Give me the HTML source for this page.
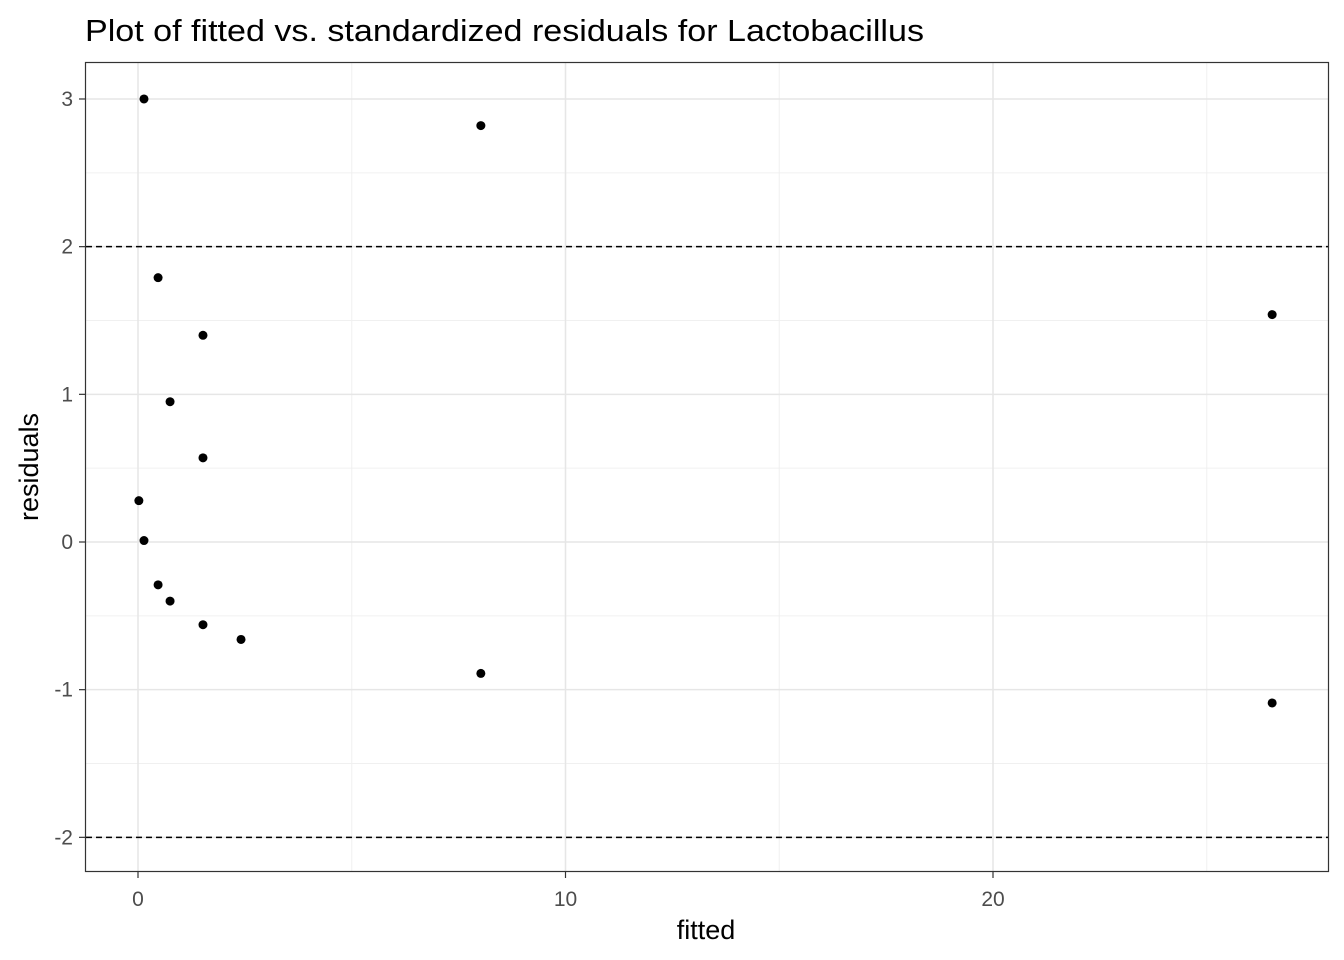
<!DOCTYPE html>
<html><head><meta charset="utf-8"><style>body{margin:0;background:#fff}svg{display:block;font-family:"Liberation Sans",sans-serif}</style></head>
<body>
<svg id="chart" width="1344" height="960">
<text x="85" y="41" font-size="31" textLength="839" lengthAdjust="spacingAndGlyphs" fill="#000">Plot of fitted vs. standardized residuals for Lactobacillus</text>
<g id="grid"></g><g id="refs"></g><g id="pts"></g>
<rect x="85.5" y="62.5" width="1243" height="809" fill="none" stroke="#333" stroke-width="1.2"/>
<g id="axes"></g>
<text x="706" y="939" font-size="27" text-anchor="middle">fitted</text>
<text transform="translate(38,467) rotate(-90)" font-size="27" text-anchor="middle">residuals</text>
</svg>
<script>
const fitted=[0.14,8.02,0.47,1.52,0.75,1.52,0.02,0.14,0.47,0.75,1.52,2.41,8.02,26.53,26.53];
const residuals=[3.0,2.82,1.79,1.40,0.95,0.57,0.28,0.01,-0.29,-0.40,-0.56,-0.66,-0.89,1.54,-1.09];
const xTicks=[0,10,20];const xMinor=[5,15,25];
const yTicks=[-2,-1,0,1,2,3];const yMinor=[-1.5,-0.5,0.5,1.5,2.5];
const refLines=[-2,2];
const X=v=>138+v*42.75, Y=v=>542-v*147.67;
const L=86,R=1328,T=63,B=871,ns='http://www.w3.org/2000/svg';
function mk(p,t,a){const e=document.createElementNS(ns,t);for(const k in a)e.setAttribute(k,a[k]);document.getElementById(p).appendChild(e);return e;}
xMinor.forEach(v=>{const e=mk('grid','line',{x1:X(v),x2:X(v),y1:T,y2:B,stroke:'#f0f0f0','stroke-width':1});});
yMinor.forEach(v=>{const e=mk('grid','line',{x1:L,x2:R,y1:Y(v),y2:Y(v),stroke:'#f0f0f0','stroke-width':1});});
xTicks.forEach(v=>{const e=mk('grid','line',{x1:X(v),x2:X(v),y1:T,y2:B,stroke:'#e6e6e6','stroke-width':1.5});
const t=mk('axes','line',{x1:X(v),x2:X(v),y1:872,y2:878,stroke:'#333','stroke-width':1.2});
const l=mk('axes','text',{x:X(v),y:906,'font-size':21,fill:'#4d4d4d','text-anchor':'middle'});l.textContent=v;});
yTicks.forEach(v=>{const e=mk('grid','line',{x1:L,x2:R,y1:Y(v),y2:Y(v),stroke:'#e6e6e6','stroke-width':1.5});
const t=mk('axes','line',{x1:79,x2:85,y1:Y(v),y2:Y(v),stroke:'#333','stroke-width':1.2});
const l=mk('axes','text',{x:73,y:Y(v)+7,'font-size':21,fill:'#4d4d4d','text-anchor':'end'});l.textContent=v;});
refLines.forEach(v=>{const e=mk('refs','line',{x1:L,x2:R,y1:Y(v),y2:Y(v),stroke:'#000','stroke-width':1.5,'stroke-dasharray':'6,4'});});
fitted.forEach((f,i)=>{const c=mk('pts','circle',{cx:X(f),cy:Y(residuals[i]),r:4.5,fill:'#000'});});
</script>
</body></html>
